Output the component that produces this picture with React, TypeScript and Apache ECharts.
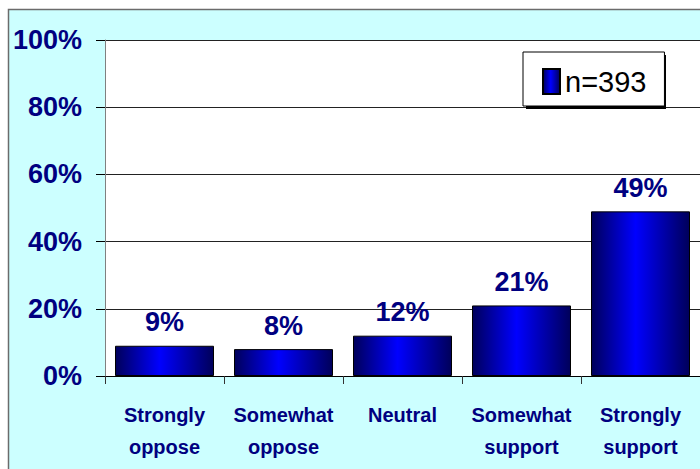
import React, { useEffect, useRef } from "react";
import * as echarts from "echarts";

const categories = ["Strongly\noppose", "Somewhat\noppose", "Neutral", "Somewhat\nsupport", "Strongly\nsupport"];
const values = [9, 8, 12, 21, 49];
const seriesName = "n=393";
const yTicks = { min: 0, max: 100, interval: 20 };

const FONT = '"Liberation Sans", Arial, sans-serif';
const NAVY = "#000080";

export default function App() {
  const ref = useRef<HTMLDivElement>(null);
  useEffect(() => {
    if (!ref.current) return;
    const chart = echarts.init(ref.current, null, { renderer: "svg" });
    const barGrad = new echarts.graphic.LinearGradient(0, 0, 1, 0, [
      { offset: 0, color: "#00005a" },
      { offset: 0.45, color: "#0000ff" },
      { offset: 1, color: "#00005a" },
    ]);
    chart.setOption({
      animation: false,
      backgroundColor: "#ffffff",
      graphic: [
        {
          type: "rect",
          z: -10,
          silent: true,
          shape: { x: 8.5, y: 9.5, width: 800, height: 500 },
          style: { fill: "#CCFFFF", stroke: "#6b6b6b", lineWidth: 1.5 },
        },
        {
          type: "rect",
          z: 4,
          silent: true,
          shape: { x: 526, y: 55, width: 140, height: 54 },
          style: { fill: "#000000" },
        },
      ],
      grid: {
        left: 105,
        top: 40,
        width: 600,
        height: 336,
        show: true,
        backgroundColor: "#ffffff",
        borderWidth: 0,
        containLabel: false,
      },
      legend: {
        show: true,
        z: 5,
        left: 523,
        top: 52,
        orient: "horizontal",
        backgroundColor: "#ffffff",
        borderColor: "#000000",
        borderWidth: 1,
        padding: [15, 18, 10, 19],
        itemWidth: 17,
        itemHeight: 25,
        selectedMode: false,
        data: [{ name: seriesName, icon: "rect" }],
        textStyle: {
          color: "#000000",
          fontSize: 29,
          lineHeight: 29,
          fontFamily: FONT,
        },
      },
      xAxis: {
        type: "category",
        data: categories,
        axisLine: { show: true, lineStyle: { color: "#000000", width: 1 } },
        axisTick: { show: true, alignWithLabel: false, length: 8, lineStyle: { color: "#333333" } },
        axisLabel: {
          color: NAVY,
          fontWeight: "bold",
          fontSize: 20,
          lineHeight: 32,
          margin: 23,
          fontFamily: FONT,
          interval: 0,
        },
      },
      yAxis: {
        type: "value",
        min: yTicks.min,
        max: yTicks.max,
        interval: yTicks.interval,
        axisLine: { show: true, lineStyle: { color: "#808080", width: 1 } },
        axisTick: { show: true, length: 9, lineStyle: { color: "#000000" } },
        splitLine: { show: true, lineStyle: { color: "#222222", width: 1 } },
        axisLabel: {
          formatter: "{value}%",
          color: NAVY,
          fontWeight: "bold",
          fontSize: 27,
          margin: 23,
          fontFamily: FONT,
        },
      },
      series: [
        {
          name: seriesName,
          type: "bar",
          data: values,
          barWidth: 99,
          itemStyle: { color: barGrad, borderColor: "#000000", borderWidth: 1 },
          label: {
            show: true,
            position: "top",
            distance: 10,
            formatter: "{c}%",
            color: NAVY,
            fontWeight: "bold",
            fontSize: 27,
            fontFamily: FONT,
          },
        },
      ],
    });
    return () => chart.dispose();
  }, []);
  return (
    <div
      ref={ref}
      style={{ position: "absolute", left: 0, top: 0, width: 700, height: 469 }}
    />
  );
}
